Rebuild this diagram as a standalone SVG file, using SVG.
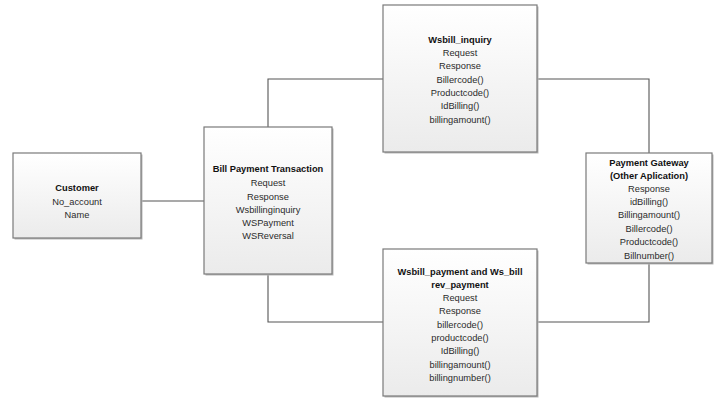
<svg xmlns="http://www.w3.org/2000/svg" width="719" height="398" viewBox="0 0 719 398">
<defs>
<linearGradient id="g" x1="0" y1="0" x2="0" y2="1">
<stop offset="0" stop-color="#ffffff"/>
<stop offset="1" stop-color="#ebebeb"/>
</linearGradient>
<style>
.box{fill:url(#g);stroke:#7a7a7a;stroke-width:1.2}
.sh{fill:#b8b8b8}
.t{font-family:"Liberation Sans",Arial,sans-serif;font-size:9.3px;fill:#2b2b2b;text-anchor:middle}
.b{font-weight:bold;fill:#111}
.c{fill:none;stroke:#555;stroke-width:1.1}
</style>
</defs>
<rect width="719" height="398" fill="#ffffff"/>
<g id="connectors">
<polyline class="c" points="141,201 204,201"/>
<polyline class="c" points="268,127 268,79 383,79"/>
<polyline class="c" points="537,79 649,79 649,153"/>
<polyline class="c" points="268,274 268,322 383,322"/>
<polyline class="c" points="537,322 649,322 649,263"/>
</g>
<g id="customer">
<rect class="sh" x="14.5" y="154.5" width="128" height="85"/>
<rect class="box" x="13" y="153" width="128" height="85"/>
<text class="t b" x="77" y="191">Customer</text>
<text class="t" x="77" y="204.5">No_account</text>
<text class="t" x="77" y="218">Name</text>
</g>
<g id="bill_payment_transaction">
<rect class="sh" x="205.5" y="128.5" width="128" height="147"/>
<rect class="box" x="204" y="127" width="128" height="147"/>
<text class="t b" x="268" y="171.5">Bill Payment Transaction</text>
<text class="t" x="268" y="186">Request</text>
<text class="t" x="268" y="199.5">Response</text>
<text class="t" x="268" y="212.5">Wsbillinginquiry</text>
<text class="t" x="268" y="225.5">WSPayment</text>
<text class="t" x="268" y="238.5">WSReversal</text>
</g>
<g id="wsbill_inquiry">
<rect class="sh" x="384.5" y="6.5" width="154" height="147"/>
<rect class="box" x="383" y="5" width="154" height="147"/>
<text class="t b" x="460" y="42.5">Wsbill_inquiry</text>
<text class="t" x="460" y="56">Request</text>
<text class="t" x="460" y="69">Response</text>
<text class="t" x="460" y="82.5">Billercode()</text>
<text class="t" x="460" y="95.5">Productcode()</text>
<text class="t" x="460" y="109">IdBilling()</text>
<text class="t" x="460" y="122.5">billingamount()</text>
</g>
<g id="wsbill_payment">
<rect class="sh" x="384.5" y="250.5" width="154" height="147"/>
<rect class="box" x="383" y="249" width="154" height="147"/>
<text class="t b" x="460" y="274.5">Wsbill_payment and Ws_bill</text>
<text class="t b" x="460" y="287.5">rev_payment</text>
<text class="t" x="460" y="300.5">Request</text>
<text class="t" x="460" y="314">Response</text>
<text class="t" x="460" y="327.5">billercode()</text>
<text class="t" x="460" y="340.5">productcode()</text>
<text class="t" x="460" y="354">IdBilling()</text>
<text class="t" x="460" y="367.5">billingamount()</text>
<text class="t" x="460" y="380.5">billingnumber()</text>
</g>
<g id="payment_gateway">
<rect class="sh" x="587.5" y="154.5" width="126" height="110"/>
<rect class="box" x="586" y="153" width="126" height="110"/>
<text class="t b" x="649" y="165.5">Payment Gateway</text>
<text class="t b" x="649" y="178.5">(Other Aplication)</text>
<text class="t" x="649" y="191.5">Response</text>
<text class="t" x="649" y="204.5">idBilling()</text>
<text class="t" x="649" y="218">Billingamount()</text>
<text class="t" x="649" y="231.5">Billercode()</text>
<text class="t" x="649" y="245">Productcode()</text>
<text class="t" x="649" y="258.5">Billnumber()</text>
</g>
</svg>
